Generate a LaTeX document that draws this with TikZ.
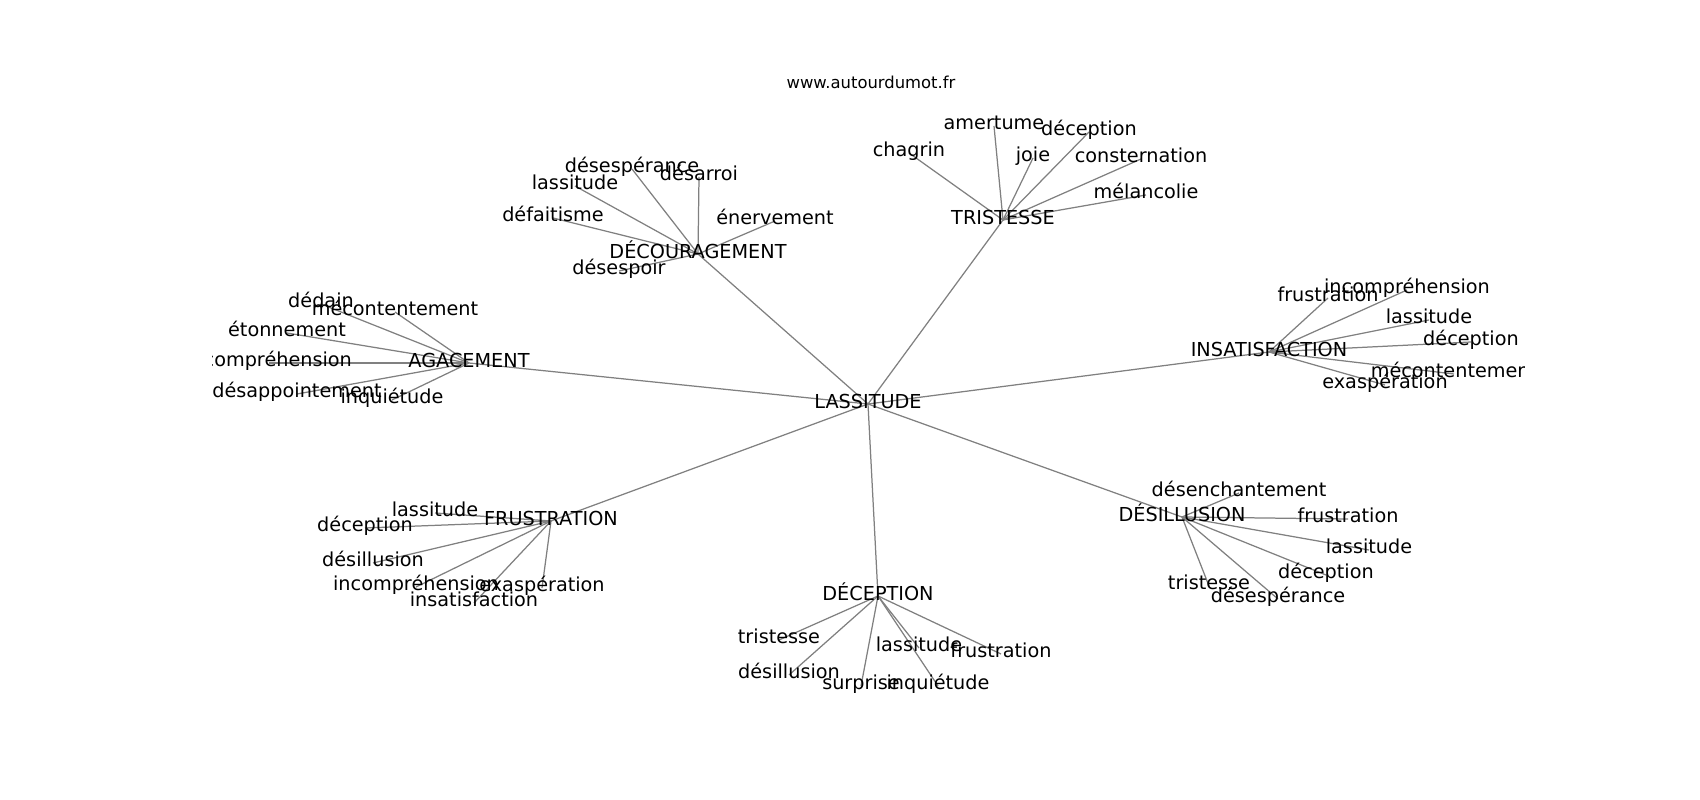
\documentclass[tikz,border=0pt]{standalone}
\usepackage{fontspec}
\setmainfont{DejaVu Sans}
\pgfdeclarelayer{bg}
\pgfsetlayers{bg,main}
\begin{document}
\begin{tikzpicture}[x=0.01in,y=-0.01in,
  lbl/.style={inner sep=0pt, text height=0.76em, text depth=0.24em, font=\fontsize{13.9pt}{16pt}\selectfont},
  hub/.style={inner sep=0pt, text height=0.85em, text depth=0.15em, font=\fontsize{13.9pt}{16pt}\selectfont},
  ttl/.style={inner sep=0pt, text height=0.76em, text depth=0.24em, font=\fontsize{11.85pt}{14pt}\selectfont},
  edge/.style={draw=gray, line width=0.9pt}]
\useasboundingbox (0,0) rectangle (1700,800);
\node[ttl] (title) at (871,85) {www.autourdumot.fr};
\begin{scope}
\clip (212.5,96) rectangle (1524,712);
\node[hub] (L) at (868,404) {LASSITUDE};
% DECOURAGEMENT
\node[hub] (D) at (698,254) {DÉCOURAGEMENT};
\node[lbl] (d1) at (632,169) {désespérance};
\node[lbl] (d2) at (699,177) {désarroi};
\node[lbl] (d3) at (575,186) {lassitude};
\node[lbl] (d4) at (553,218) {défaitisme};
\node[lbl] (d5) at (775,221) {énervement};
\node[lbl] (d6) at (619,271) {désespoir};
% TRISTESSE
\node[hub] (T) at (1003,220) {TRISTESSE};
\node[lbl] (t1) at (909,153) {chagrin};
\node[lbl] (t2) at (994,126) {amertume};
\node[lbl] (t3) at (1089,132) {déception};
\node[lbl] (t4) at (1033,158) {joie};
\node[lbl] (t5) at (1141,159) {consternation};
\node[lbl] (t6) at (1146,195) {mélancolie};
% AGACEMENT
\node[hub] (A) at (469,363) {AGACEMENT};
\node[lbl] (a1) at (321,304) {dédain};
\node[lbl] (a2) at (395,312) {mécontentement};
\node[lbl] (a3) at (287,333) {étonnement};
\node[lbl] (a4) at (269,363) {incompréhension};
\node[lbl] (a5) at (297,394) {désappointement};
\node[lbl] (a6) at (392,400) {inquiétude};
% INSATISFACTION
\node[hub] (I) at (1269,352) {INSATISFACTION};
\node[lbl] (i1) at (1328,298) {frustration};
\node[lbl] (i2) at (1407,290) {incompréhension};
\node[lbl] (i3) at (1429,320) {lassitude};
\node[lbl] (i4) at (1471,342) {déception};
\node[lbl] (i5) at (1454,374) {mécontentement};
\node[lbl] (i6) at (1385,385) {exaspération};
% FRUSTRATION
\node[hub] (F) at (551,521) {FRUSTRATION};
\node[lbl] (f1) at (435,513) {lassitude};
\node[lbl] (f2) at (365,528) {déception};
\node[lbl] (f3) at (373,563) {désillusion};
\node[lbl] (f4) at (416,587) {incompréhension};
\node[lbl] (f5) at (542,588) {exaspération};
\node[lbl] (f6) at (474,603) {insatisfaction};
% DESILLUSION
\node[hub] (S) at (1182,517) {DÉSILLUSION};
\node[lbl] (s1) at (1239,493) {désenchantement};
\node[lbl] (s2) at (1348,519) {frustration};
\node[lbl] (s3) at (1369,550) {lassitude};
\node[lbl] (s4) at (1326,575) {déception};
\node[lbl] (s5) at (1209,586) {tristesse};
\node[lbl] (s6) at (1278,599) {désespérance};
% DECEPTION
\node[hub] (C) at (878,596) {DÉCEPTION};
\node[lbl] (c1) at (779,640) {tristesse};
\node[lbl] (c2) at (789,675) {désillusion};
\node[lbl] (c3) at (861,686) {surprise};
\node[lbl] (c4) at (919,648) {lassitude};
\node[lbl] (c5) at (938,686) {inquiétude};
\node[lbl] (c6) at (1001,654) {frustration};
\end{scope}
\begin{pgfonlayer}{bg}
\foreach \h in {D,T,A,I,F,S,C} \draw[edge] (L.center) -- (\h.center);
\foreach \i in {1,...,6} {
  \draw[edge] (D.center) -- (d\i.center);
  \draw[edge] (T.center) -- (t\i.center);
  \draw[edge] (A.center) -- (a\i.center);
  \draw[edge] (I.center) -- (i\i.center);
  \draw[edge] (F.center) -- (f\i.center);
  \draw[edge] (S.center) -- (s\i.center);
  \draw[edge] (C.center) -- (c\i.center);
}
\end{pgfonlayer}
\end{tikzpicture}
\end{document}
